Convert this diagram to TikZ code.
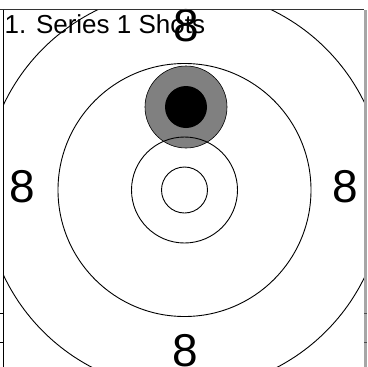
\documentclass[tikz,border=0pt]{standalone}
\usepackage{fontspec}
\setmainfont{Liberation Sans}
\usetikzlibrary{positioning}
\tikzset{
  ringln/.style={line width=0.9pt, black},
  shotouter/.style={fill=gray, draw=black, line width=0.6pt},
  shotcore/.style={fill=black},
  scorelbl/.style={inner sep=0pt, font=\fontsize{46}{46}\selectfont},
  titlelbl/.style={inner sep=0pt, anchor=base west, font=\fontsize{26}{26}\selectfont},
  frameln/.style={line width=1.4pt, black!80},
}
\begin{document}
\begin{tikzpicture}[x=1pt, y=-1pt]
        \useasboundingbox (0,0) rectangle (367,367);
        \coordinate (ctr) at (184.5,190);
        % title and score numbers
        \node[titlelbl] (title) at (4.5,33) {1. Series 1 Shots};
        \node[scorelbl] (scoreW) at (22,187) {8};
        \node[scorelbl] (scoreE) at (345,187) {8};
        \node[scorelbl] (scoreN) at (186,26) {8};
        \node[scorelbl] (scoreS) at (185,351) {8};
        % the shot (drawn before the rings so they stay visible)
        \draw[shotouter] (186,107) circle (41);
        \fill[shotcore] (186,107) circle (21);
        % rings of the target, clipped to the frame
        \begin{scope}
          \clip (3.5,9.5) rectangle (364,367);
          \foreach \r in {23,53,126.5,200}
            \draw[ringln] (ctr) circle (\r);
        \end{scope}
        % frame round the view
        \draw[frameln] (0,9.5) -- (364,9.5);
        \draw[line width=0.9pt] (3.5,9.5) -- (3.5,367);
        \fill[gray!70] (364,10) rectangle (367,367);
        \foreach \y in {313,342} {
          \draw[line width=0.8pt] (0,\y) -- (3.5,\y);
          \draw[line width=0.8pt, black!70] (364,\y) -- (367,\y);
        }
      \end{tikzpicture}
\end{document}
